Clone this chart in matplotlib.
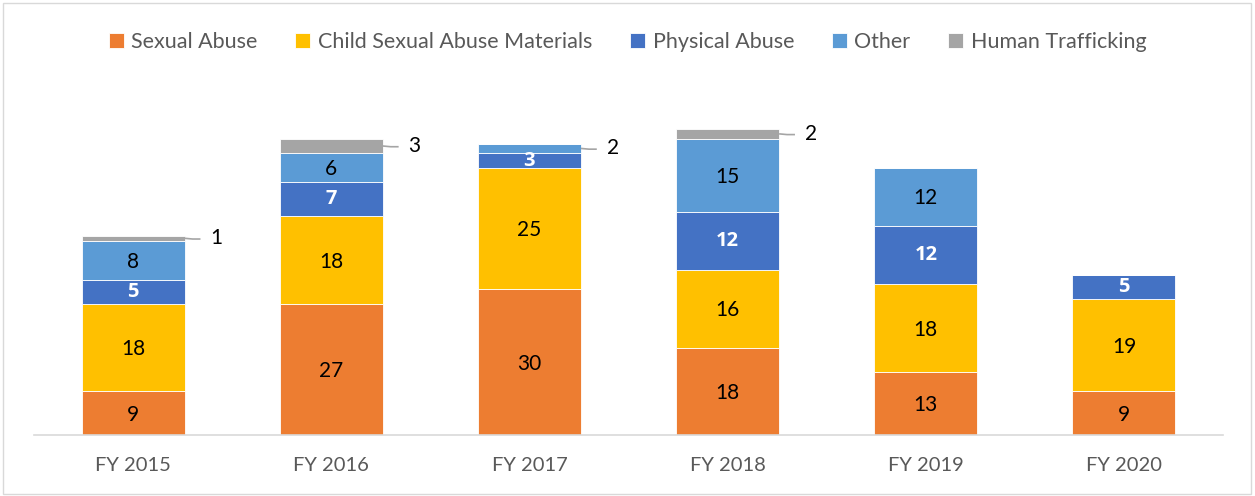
import matplotlib.pyplot as plt
import numpy as np
from matplotlib.patches import Rectangle

plt.rcParams['font.family'] = ['Lato', 'DejaVu Sans']

# Data
years = ['FY 2015', 'FY 2016', 'FY 2017', 'FY 2018', 'FY 2019', 'FY 2020']
series_names = ['Sexual Abuse', 'Child Sexual Abuse Materials', 'Physical Abuse', 'Other', 'Human Trafficking']
sexual_abuse = [9, 27, 30, 18, 13, 9]
csam = [18, 18, 25, 16, 18, 19]
physical_abuse = [5, 7, 3, 12, 12, 5]
other = [8, 6, 2, 15, 12, 0]
human_trafficking = [1, 3, 0, 2, 0, 0]

colors = ['#ED7D31', '#FFC000', '#4472C4', '#5B9BD5', '#A5A5A5']
label_colors = ['black', 'black', 'white', 'black', 'black']
bold_series = {2}
# segments whose label sits outside with a leader line
outside = {(0, 4), (1, 4), (2, 3), (3, 4)}

W, H = 1255, 496
fig = plt.figure(figsize=(W / 100, H / 100), dpi=100)
fig.patches.append(Rectangle((3 / W, 2 / H), 1 - 7 / W, 1 - 5 / H, transform=fig.transFigure,
                             fill=False, edgecolor='#D9D9D9', linewidth=1))
ax = fig.add_axes([34 / W, 61 / H, 1189 / W, 340 / H])

x = np.arange(len(years))
bw = 0.52
all_series = [sexual_abuse, csam, physical_abuse, other, human_trafficking]
bottom = np.zeros(len(years))
for si, vals in enumerate(all_series):
    vals = np.array(vals, dtype=float)
    ax.bar(x, vals, bw, bottom=bottom, color=colors[si], edgecolor='white', linewidth=0.6,
           label=series_names[si])
    for i, v in enumerate(vals):
        if v <= 0:
            continue
        yc = bottom[i] + v / 2
        if (i, si) in outside:
            xe = x[i] + bw / 2
            ax.plot([xe, xe + 0.04, xe + 0.08], [yc, yc - 0.15, yc - 0.15], color='#A5A5A5', lw=1.2,
                    solid_capstyle='butt')
            ax.text(xe + 0.13, yc, '%d' % v, ha='left', va='center', fontsize=15, color='black')
        elif si in bold_series:
            ax.text(x[i], yc, '%d' % v, ha='center', va='center', fontsize=14.5,
                    color=label_colors[si], fontweight='bold', family=['Open Sans', 'DejaVu Sans'])
        else:
            ax.text(x[i], yc - 0.3, '%d' % v, ha='center', va='center', fontsize=15,
                    color=label_colors[si])
    bottom += vals

ax.set_xlim(-0.5, len(years) - 0.5)
ax.set_ylim(0, 70)
ax.set_xticks(x)
ax.set_xticklabels(years, fontsize=14.5, color='#595959')
ax.tick_params(axis='x', length=0, pad=16)
ax.set_yticks([])
for s in ['top', 'right', 'left']:
    ax.spines[s].set_visible(False)
ax.spines['bottom'].set_color('#D9D9D9')
ax.spines['bottom'].set_linewidth(1.2)

handles, labels = ax.get_legend_handles_labels()
fig.legend(handles, labels, loc='center', bbox_to_anchor=(0.5, 1 - 42 / H), ncol=5, frameon=False,
           fontsize=15.5, labelcolor='#595959', handlelength=0.7, handleheight=0.7,
           handletextpad=0.35, columnspacing=1.75)

fig.savefig('out.png', dpi=100)
